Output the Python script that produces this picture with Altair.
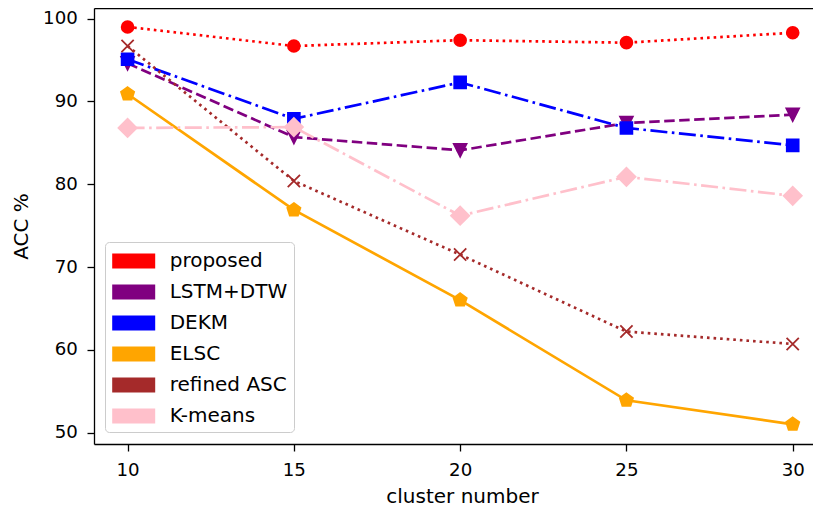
import altair as alt
import pandas as pd

cluster_numbers = [10, 15, 20, 25, 30]
series_names = ["proposed", "LSTM+DTW", "DEKM", "ELSC", "refined ASC", "K-means"]
series_colors = ["#ff0000", "#800080", "#0000ff", "#ffa500", "#a52a2a", "#ffc0cb"]

acc_proposed = [99.0, 96.7, 97.4, 97.1, 98.3]
acc_lstm_dtw = [94.6, 85.7, 84.1, 87.4, 88.4]
acc_dekm = [95.1, 87.9, 92.3, 86.8, 84.7]
acc_elsc = [90.9, 76.9, 66.0, 53.9, 51.0]
acc_refined_asc = [96.7, 80.4, 71.5, 62.2, 60.7]
acc_kmeans = [86.8, 86.9, 76.2, 80.9, 78.6]

y_ticks = [50, 60, 70, 80, 90, 100]

all_values = [acc_proposed, acc_lstm_dtw, acc_dekm, acc_elsc, acc_refined_asc, acc_kmeans]

dotted = [2.6, 4.0]
dashed = [10.5, 4.5]
dashdot = [17, 4.5, 2.6, 4.5]
dash_styles = [dotted, dashed, dashdot, None, dotted, dashdot]

pentagon = "M0,-1L0.951,-0.309L0.588,0.809L-0.588,0.809L-0.951,-0.309Z"
tri_down = "M0,0.9L-0.9,-0.9L0.9,-0.9Z"
xmark = "M-1,-1L1,1M-1,1L1,-1"
shapes = ["circle", tri_down, "square", pentagon, xmark, "diamond"]
sizes = [140, 200, 140, 190, 150, 330]

rows = []
for name, vals in zip(series_names, all_values):
    for xv, yv in zip(cluster_numbers, vals):
        rows.append({"series": name, "cluster": xv, "acc": yv})
df = pd.DataFrame(rows)

FONT = "DejaVu Sans"

x_scale = alt.Scale(domain=[8.99, 30.61], nice=False, zero=False)
y_scale = alt.Scale(domain=[48.62, 101.29], nice=False, zero=False)

x_axis = alt.Axis(values=cluster_numbers, title="cluster number", grid=False,
                  labelFontSize=18.2, titleFontSize=20, labelFont=FONT, titleFont=FONT,
                  tickSize=7, labelPadding=10, titlePadding=8, titleFontWeight="normal",
                  domainColor="black", tickColor="black", labelColor="black", titleColor="black",
                  domainWidth=1.3, tickWidth=1.3, titleX=368)
x_axis_top = alt.Axis(orient="top", labels=False, ticks=False, title=None, grid=False,
                      domainColor="black", domainWidth=1.3)
y_axis = alt.Axis(values=y_ticks, title="ACC %", grid=False,
                  labelFontSize=18.2, titleFontSize=20, labelFont=FONT, titleFont=FONT,
                  tickSize=7, labelPadding=9.7, titlePadding=11.5, titleFontWeight="normal",
                  domainColor="black", tickColor="black", labelColor="black", titleColor="black",
                  domainWidth=1.3, tickWidth=1.3)

legend_rect = "M-1.654,-0.577L1.654,-0.577L1.654,0.577L-1.654,0.577Z"
legend = alt.Legend(title=None, orient="none", legendX=11, legendY=234,
                    symbolType=legend_rect, symbolSize=676, symbolStrokeWidth=0,
                    symbolOffset=9.7, labelOffset=23, labelFontSize=20, labelFont=FONT,
                    labelColor="black", rowPadding=8, padding=6,
                    fillColor="rgba(255,255,255,0.8)", strokeColor="#cccccc",
                    cornerRadius=4, labelLimit=300)

layers = []
for i, name in enumerate(series_names):
    base = alt.Chart(df).transform_filter(alt.datum.series == name)
    line_kwargs = dict(color=series_colors[i], strokeWidth=2.7, clip=True)
    if dash_styles[i] is not None:
        line_kwargs["strokeDash"] = dash_styles[i]
    line = base.mark_line(**line_kwargs).encode(
        x=alt.X("cluster:Q", scale=x_scale, axis=x_axis),
        y=alt.Y("acc:Q", scale=y_scale, axis=y_axis),
    )
    pts = base.mark_point(filled=True, shape=shapes[i], size=sizes[i], opacity=1,
                          stroke=series_colors[i], strokeWidth=1.8).encode(
        x=alt.X("cluster:Q", scale=x_scale, axis=x_axis),
        y=alt.Y("acc:Q", scale=y_scale, axis=y_axis),
        fill=alt.Fill("series:N", scale=alt.Scale(domain=series_names, range=series_colors),
                      legend=legend, sort=series_names),
    )
    layers += [line, pts]

data_layers = alt.layer(*layers)

frame_top = alt.Chart(df).mark_point(opacity=0).encode(
    x=alt.X("cluster:Q", scale=x_scale, axis=x_axis_top),
)

chart = alt.layer(data_layers, frame_top).resolve_scale(x="independent").resolve_axis(
    x="independent"
).properties(
    width=719, height=436,
    autosize=alt.AutoSizeParams(type="none"),
    padding={"left": 86, "top": 0, "right": 0, "bottom": 63},
    background="white",
).configure(font=FONT).configure_view(stroke=None)

chart.save("out.html", embed_options={"renderer": "svg", "actions": False})
